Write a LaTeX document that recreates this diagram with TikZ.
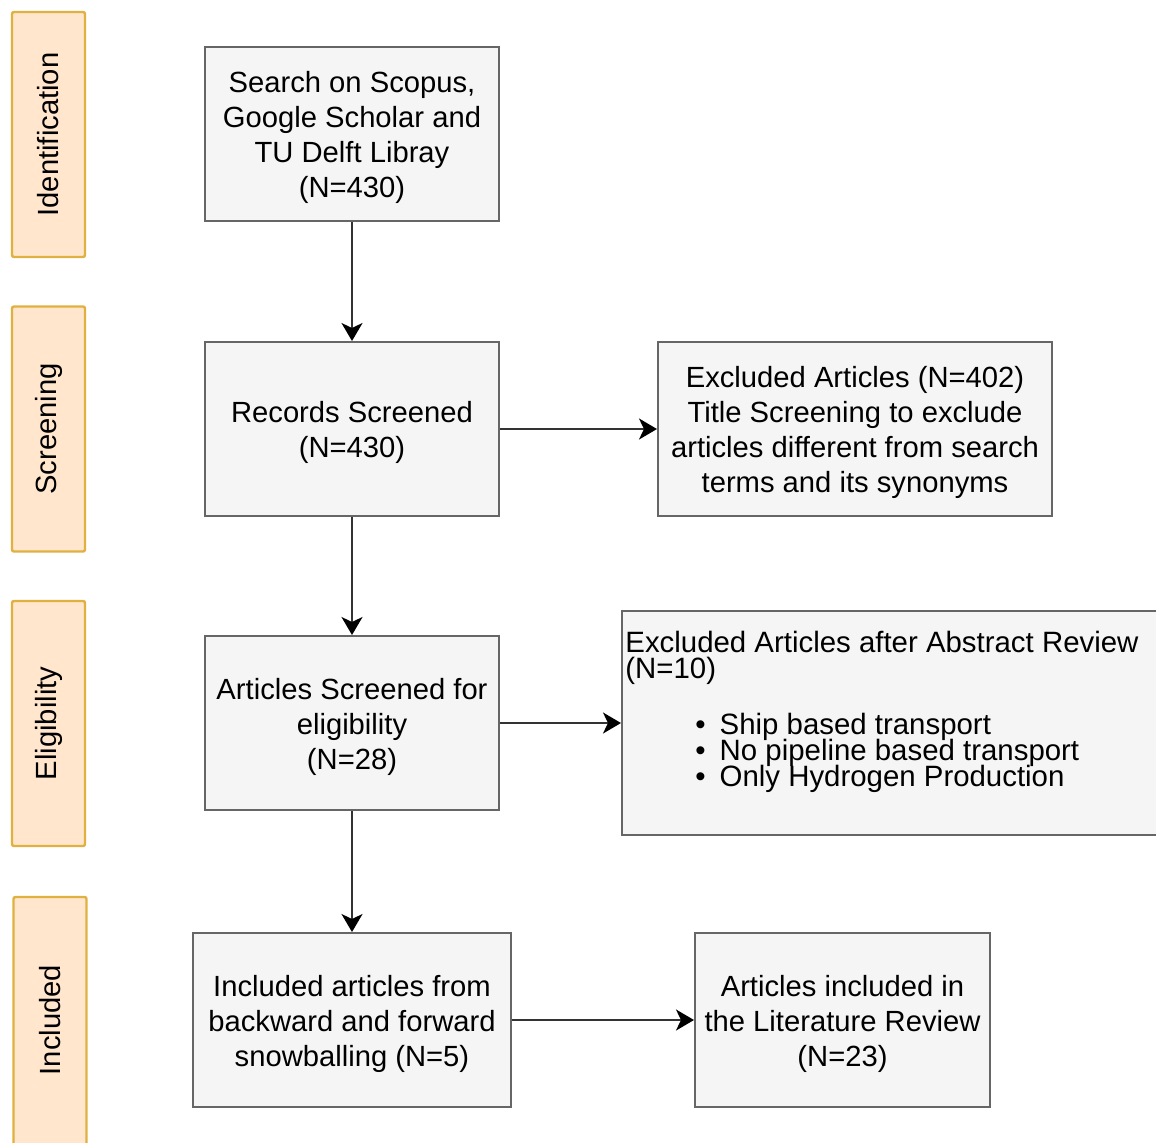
\documentclass[tikz,border=0pt]{standalone}
\usepackage{fontspec}
\setmainfont{Liberation Sans}
\usetikzlibrary{arrows.meta}
\definecolor{boxfill}{HTML}{F5F5F5}
\definecolor{boxline}{HTML}{666666}
\definecolor{phasefill}{HTML}{FFE6CC}
\definecolor{phaseline}{HTML}{E0B040}
% centred lines of a box, set a little lower than the geometric centre
\newcommand\boxlines[1]{\raisebox{-2.2pt}[\height][\depth]{\begin{tabular}{@{}c@{}}#1\end{tabular}}}
% tight line spacing for the list box
\newcommand\tightlist{\fontsize{14.7}{13}\selectfont\lineskiplimit=-100pt\relax}
\tikzset{
  stagebox/.style={draw=boxline, fill=boxfill, line width=1pt,
    inner sep=2pt, font=\fontsize{14.6}{17.5}\selectfont},
  phasebox/.style={draw=phaseline, fill=phasefill, line width=1.2pt, rounded corners=1pt,
    minimum width=36.5pt, minimum height=122.5pt, inner sep=0pt},
  phasetext/.style={rotate=90, font=\fontsize{14.6}{17.5}\selectfont},
  flow/.style={draw=black!80, line width=1pt,
    -{Stealth[length=9pt,width=10.5pt,inset=2.5pt,color=black]}},
}
\begin{document}
\begin{tikzpicture}[x=0.5pt,y=-0.5pt]
\useasboundingbox (0,0) rectangle (1156,1142);
\begin{scope}
\clip (0,0) rectangle (1156,1142);

% phase labels on the left
\node[phasebox] (pid) at (48.5,134.5) {};
\node[phasetext] (pidt) at (pid.center) {Identification};
\node[phasebox] (psc) at (48.5,429) {};
\node[phasetext] (psct) at (psc.center) {Screening};
\node[phasebox] (pel) at (48.5,723.5) {};
\node[phasetext] (pelt) at (pel.center) {Eligibility};
\node[phasebox, minimum height=135pt] (pin) at (50,1032) {};
\node[phasetext] (pint) at (50,1020) {Included};

% flow boxes
\node[stagebox, minimum width=147pt, minimum height=87pt] (b1) at (352,134)
  {\boxlines{Search on Scopus,\\Google Scholar and\\TU Delft Libray\\(N=430)}};
\node[stagebox, minimum width=147pt, minimum height=87pt] (b2) at (352,429)
  {\boxlines{Records Screened\\(N=430)}};
\node[stagebox, minimum width=197pt, minimum height=87pt] (b3) at (855,429)
  {\boxlines{Excluded Articles (N=402)\\Title Screening to exclude\\articles different from search\\terms and its synonyms}};
\node[stagebox, minimum width=147pt, minimum height=87pt] (b4) at (352,723)
  {\boxlines{Articles Screened for\\eligibility\\(N=28)}};
\node[stagebox, minimum width=272pt, minimum height=112pt] (b5) at (894,723) {};
\node[anchor=north west, inner sep=0pt, align=left, font=\tightlist] (b5t) at (625,631)
  {Excluded Articles after Abstract Review\\(N=10)\\[15pt]
   \hspace*{35pt}\textbullet\hspace{7pt}Ship based transport\\
   \hspace*{35pt}\textbullet\hspace{7pt}No pipeline based transport\\
   \hspace*{35pt}\textbullet\hspace{7pt}Only Hydrogen Production};
\node[stagebox, minimum width=159pt, minimum height=87pt] (b6) at (352,1020)
  {\boxlines{Included articles from\\backward and forward\\snowballing (N=5)}};
\node[stagebox, minimum width=147.5pt, minimum height=87pt] (b7) at (842.5,1020)
  {\boxlines{Articles included in\\the Literature Review\\(N=23)}};

% connectors
\draw[flow] (b1.south) -- (b2.north);
\draw[flow] (b2.east) -- (b3.west);
\draw[flow] (b2.south) -- (b4.north);
\draw[flow] (b4.east) -- (b5.west);
\draw[flow] (b4.south) -- (b6.north);
\draw[flow] (b6.east) -- (b7.west);
\end{scope}
\end{tikzpicture}
\end{document}
